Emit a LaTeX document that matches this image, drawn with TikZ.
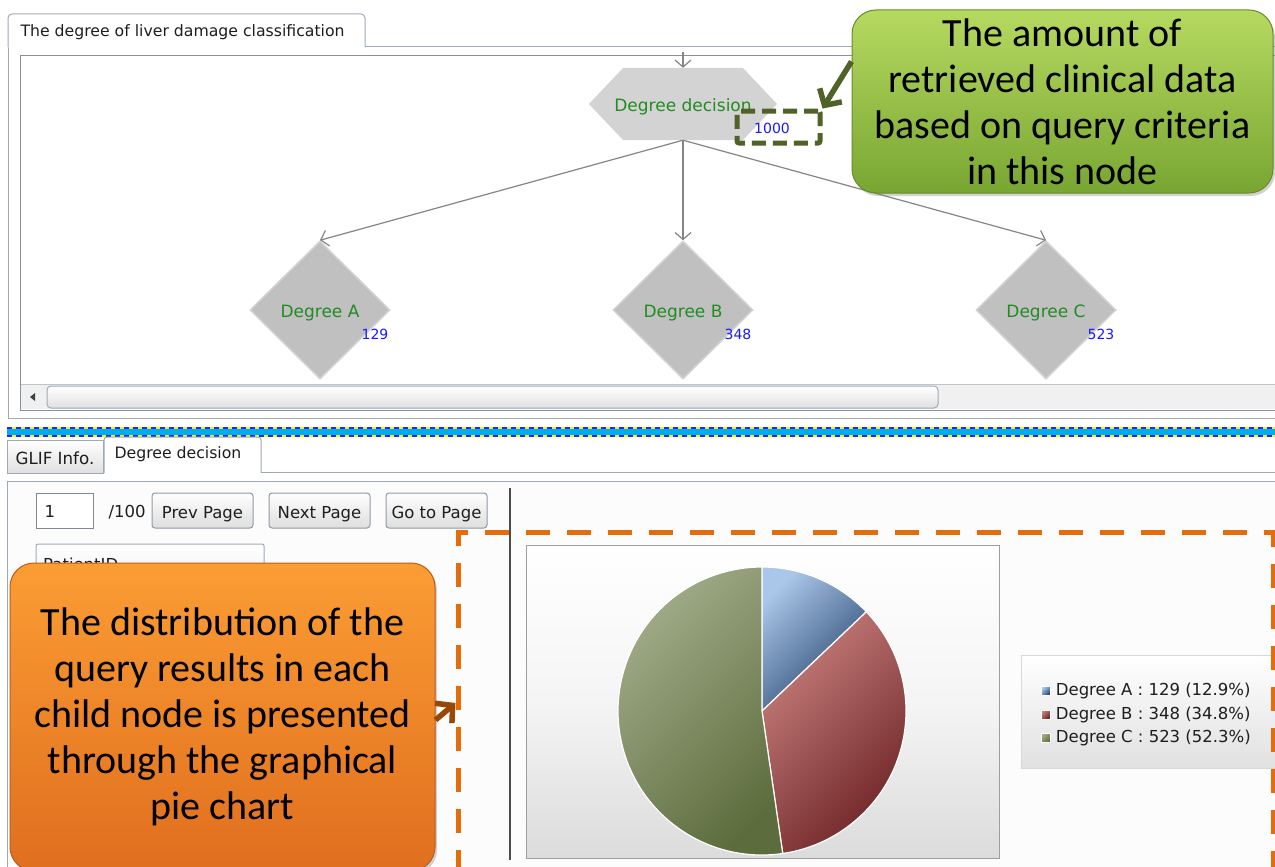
\documentclass[tikz,border=0pt]{standalone}
\usepackage{fontspec}
\setmainfont{DejaVu Sans}
\newfontfamily\notefont{Carlito}
\usetikzlibrary{arrows.meta,positioning,shapes.geometric,shadows}

\definecolor{uiline}{RGB}{160,170,182}
\definecolor{uitext}{RGB}{30,30,30}
\definecolor{hexfill}{RGB}{211,211,211}
\definecolor{diafill}{RGB}{192,192,192}
\definecolor{diaedge}{RGB}{210,210,210}
\definecolor{lblgreen}{RGB}{34,139,34}
\definecolor{lblblue}{RGB}{25,25,255}
\definecolor{markolive}{RGB}{79,98,40}
\definecolor{notegreenA}{RGB}{182,217,96}
\definecolor{notegreenB}{RGB}{120,166,50}
\definecolor{noteorangeA}{RGB}{251,157,52}
\definecolor{noteorangeB}{RGB}{224,110,30}
\definecolor{dashorange}{RGB}{228,108,10}
\definecolor{arrowbrown}{RGB}{151,72,6}
\definecolor{sliceAlt}{RGB}{170,198,232}
\definecolor{sliceAdk}{RGB}{36,66,108}
\definecolor{sliceBlt}{RGB}{198,126,124}
\definecolor{sliceBdk}{RGB}{106,32,34}
\definecolor{sliceClt}{RGB}{162,172,138}
\definecolor{sliceCdk}{RGB}{92,108,60}

\begin{document}
\begin{tikzpicture}[x=1pt,y=-1pt,
  font=\fontsize{16.5}{19}\selectfont,
  ui/.style={draw=uiline,line width=1pt},
  btn/.style={draw=uiline!90!black,rounded corners=3pt,line width=1pt,top color=white,bottom color=black!13,minimum width=101pt,minimum height=35pt,inner sep=0pt,text height=19pt,text depth=4pt,text=uitext},
  decision/.style={minimum width=188pt,minimum height=72pt,inner sep=0pt,text height=19pt,text depth=4pt,text=lblgreen,font=\fontsize{17}{20}\selectfont,
    path picture={\fill[hexfill] (path picture bounding box.west) -- ([xshift=34pt]path picture bounding box.north west) -- ([xshift=-34pt]path picture bounding box.north east) -- (path picture bounding box.east) -- ([xshift=-34pt]path picture bounding box.south east) -- ([xshift=34pt]path picture bounding box.south west) -- cycle;}},
  degree/.style={diamond,fill=diafill,draw=diaedge,line width=1.5pt,minimum width=140pt,minimum height=138pt,inner sep=0pt,text height=19pt,text depth=4pt,text=lblgreen,font=\fontsize{17}{20}\selectfont},
  count/.style={text=lblblue,inner sep=0pt,font=\fontsize{14}{16}\selectfont},
  edge/.style={draw=black!48,line width=1.2pt,-{Straight Barb[length=7pt,width=16pt]}},
  note/.style={rounded corners=24pt,align=center,text=black,font=\notefont\fontsize{40}{46}\selectfont,drop shadow={opacity=.35,shadow xshift=2pt,shadow yshift=-3pt}},
  callout/.style={line width=5.5pt,-{Straight Barb[length=12pt,width=26pt]}},
  key/.style={minimum size=9pt,inner sep=0pt,draw=white,line width=.4pt}
]
  \useasboundingbox (0,0) rectangle (1275,867);
  \fill[white] (0,0) rectangle (1275,867);

  % upper panel with its tab
  \draw[ui,fill=white] (8,47) rectangle (1290,418);
  \path[ui,fill=white,rounded corners=4pt] (8,47.5) -- (8,14) -- (365,14) -- (365,47.5);
  \node[anchor=west,text=uitext,font=\fontsize{15.7}{18}\selectfont] (tabtree) at (17,32.5) {The degree of liver damage classification};
  \draw[draw=uiline!85!black,fill=white] (20,55) rectangle (1290,410);

  % scroll bar
  \fill[black!6] (21,384) rectangle (1290,409);
  \draw[uiline!70] (21,384) -- (1290,384);
  \fill[black!75] (35,393) -- (35,401) -- (30,397) -- cycle;
  \draw[ui,rounded corners=4pt,top color=white,bottom color=black!12] (47,386) rectangle (938,408);

  % decision tree
  \coordinate (entry) at (683,52);
  \node[decision] (hex) at (683,104) {Degree decision};
  \node[count] (n0) at (772,128) {1000};
  \node[degree] (degA) at (320,310) {Degree A};
  \node[degree] (degB) at (683,310) {Degree B};
  \node[degree] (degC) at (1046,310) {Degree C};
  \node[count] (nA) at (375,334) {129};
  \node[count] (nB) at (738,334) {348};
  \node[count] (nC) at (1101,334) {523};
  \draw[edge] (entry) -- (hex.north);
  \draw[edge] (hex.south) -- (degA.north);
  \draw[edge] (hex.south) -- (degB.north);
  \draw[edge] (hex.south) -- (degC.north);
  \node[draw=markolive,line width=5pt,dash pattern=on 14pt off 7pt,rounded corners=2pt,minimum width=83pt,minimum height=32pt] (mark) at (778.5,127) {};

  % separator
  \fill[cyan] (7,428) rectangle (1275,436);
  \draw[yellow,line width=2pt] (7,428) -- (1275,428) (7,436) -- (1275,436);
  \draw[blue!85,line width=2pt,dash pattern=on 5pt off 4pt] (7,428) -- (1275,428) (7,436) -- (1275,436);

  % lower panel with its tabs
  \draw[ui] (261,472) -- (1290,472);
  \draw[ui,top color=white,bottom color=black!12] (7,440) rectangle (103,473);
  \node[text=uitext,font=\fontsize{16.7}{19}\selectfont] (tabglif) at (55,458) {GLIF Info.};
  \path[ui,fill=white,rounded corners=3pt] (104,473) -- (104,437) -- (261,437) -- (261,473);
  \node[text=uitext,font=\fontsize{15.7}{18}\selectfont] (tabdeg) at (178,454) {Degree decision};
  \draw[ui,fill=black!1] (7,481) rectangle (1290,880);

  % paging controls
  \node[draw=uiline!80!black,fill=white,minimum width=57pt,minimum height=35pt,inner sep=0pt] (pagebox) at (64.5,510.5) {};
  \node[anchor=west,text=uitext] (pageno) at (41,511) {1};
  \node[anchor=west,text=uitext] (pagecount) at (105,512) {/100};
  \node[btn] (prev) at (202.5,510.5) {Prev Page};
  \node[btn] (next) at (319.5,510.5) {Next Page};
  \node[btn] (goto) at (436.5,510.5) {Go to Page};
  \draw[black!70,line width=2pt] (510,488) -- (510,860);
  \draw[ui,rounded corners=2pt,top color=white,bottom color=black!8] (36,544) rectangle (264,600);
  \node[anchor=base west,text=uitext,inner sep=0pt] (pid) at (43,570) {PatientID};

  % chart area
  \draw[draw=black!38,line width=1pt,top color=white,bottom color=black!14,middle color=black!4] (526,545) rectangle (999,858);
  \begin{scope}[shift={(762,711)}]
    \path[draw=white,line width=1.2pt,top color=sliceAlt,bottom color=sliceAdk,shading angle=45] (0,0) -- (90:144pt) arc[start angle=90,end angle=43.56,radius=144pt] -- cycle;
    \path[draw=white,line width=1.2pt,top color=sliceBlt,bottom color=sliceBdk,shading angle=45] (0,0) -- (43.56:144pt) arc[start angle=43.56,end angle=-81.72,radius=144pt] -- cycle;
    \path[draw=white,line width=1.2pt,top color=sliceClt,bottom color=sliceCdk,shading angle=45] (0,0) -- (-81.72:144pt) arc[start angle=-81.72,end angle=-270,radius=144pt] -- cycle;
  \end{scope}

  % legend
  \draw[draw=black!15,line width=1pt,top color=white,bottom color=black!12] (1021,655) rectangle (1290,768);
  \node[key,top color=sliceAlt,bottom color=sliceAdk,shading angle=45] (keyA) at (1046,691) {};
  \node[key,top color=sliceBlt,bottom color=sliceBdk,shading angle=45] (keyB) at (1046,715) {};
  \node[key,top color=sliceClt,bottom color=sliceCdk,shading angle=45] (keyC) at (1046,738) {};
  \node[right=5pt of keyA,inner sep=0pt,text=uitext] (legA) {Degree A : 129 (12.9\%)};
  \node[right=5pt of keyB,inner sep=0pt,text=uitext] (legB) {Degree B : 348 (34.8\%)};
  \node[right=5pt of keyC,inner sep=0pt,text=uitext] (legC) {Degree C : 523 (52.3\%)};

  % highlight of the chart
  \node[draw=dashorange,line width=5pt,dash pattern=on 24pt off 17pt,minimum width=815pt,minimum height=348pt,inner sep=0pt] (pane) at (865.5,706) {};

  % callouts
  \node[note,draw=notegreenB!85!black,line width=1pt,top color=notegreenA,bottom color=notegreenB,minimum width=421pt,minimum height=183pt] (note1) at (1062.5,101.5) {The amount of\\retrieved clinical data\\based on query criteria\\in this node};
  \draw[callout,markolive] ([yshift=40pt]note1.west) -- (mark.north east);
  \node[note,draw=noteorangeB!85!black,line width=1pt,top color=noteorangeA,bottom color=noteorangeB,minimum width=425pt,minimum height=308pt] (note2) at (222.5,717) {The distribution of the\\query results in each\\child node is presented\\through the graphical\\pie chart};
  \draw[callout,arrowbrown] ([yshift=-3pt]note2.east) -- ([yshift=3pt]pane.west);
\end{tikzpicture}
\end{document}
